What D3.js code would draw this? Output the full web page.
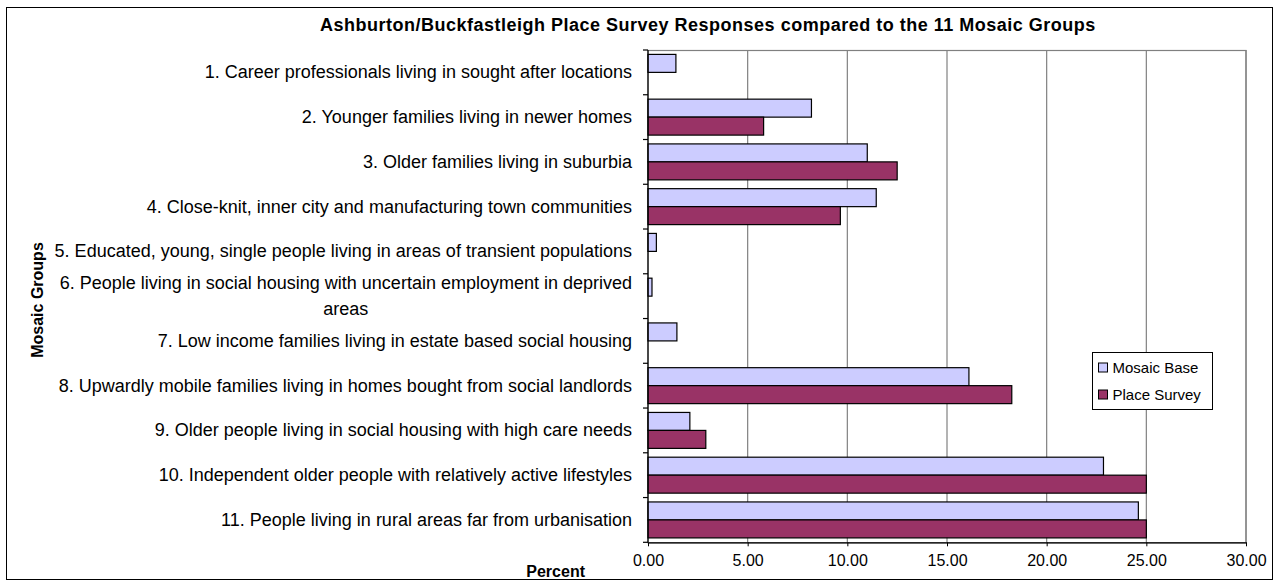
<!DOCTYPE html>
<html>
<head>
<meta charset="utf-8">
<script src="https://cdn.jsdelivr.net/npm/d3@7"></script>
<style>
  html, body { margin: 0; padding: 0; background: #ffffff; }
  svg { display: block; font-family: "Liberation Sans", Arial, sans-serif; }
</style>
</head>
<body>
<svg id="chart" width="1279" height="585"></svg>
<script>
const categories = [
  "1. Career professionals living in sought after locations",
  "2. Younger families living in newer homes",
  "3. Older families living in suburbia",
  "4. Close-knit, inner city and manufacturing town communities",
  "5. Educated, young, single people living in areas of transient populations",
  "6. People living in social housing with uncertain employment in deprived areas",
  "7. Low income families living in estate based social housing",
  "8. Upwardly mobile families living in homes bought from social landlords",
  "9. Older people living in social housing with high care needs",
  "10. Independent older people with relatively active lifestyles",
  "11. People living in rural areas far from urbanisation"
];
const seriesNames = ["Mosaic Base", "Place Survey"];
const mosaicBase = [1.4, 8.2, 11.0, 11.45, 0.42, 0.2, 1.45, 16.1, 2.1, 22.85, 24.6];
const placeSurvey = [0, 5.8, 12.5, 9.65, 0, 0, 0, 18.25, 2.9, 25.0, 25.0];
const xTicks = [0, 5, 10, 15, 20, 25, 30];
const colors = ["#ccccff", "#993366"];

const svg = d3.select("#chart");
const W = 1279, H = 585;
const plot = { left: 648, right: 1246, top: 50, bottom: 542.3 };

// outer border
svg.append("rect").attr("x", 6.5).attr("y", 7.5).attr("width", W - 13).attr("height", H - 13)
  .attr("fill", "#fff").attr("stroke", "#000").attr("stroke-width", 1);

const x = d3.scaleLinear().domain([0, 30]).range([plot.left, plot.right]);
const y = d3.scaleBand().domain(categories).range([plot.top, plot.bottom]).padding(0);
const ys = d3.scaleBand().domain(seriesNames).range([4.4, y.bandwidth() - 4.4]).padding(0);

// plot area frame (grey)
svg.append("rect").attr("x", plot.left).attr("y", plot.top + 0.5)
  .attr("width", plot.right - plot.left).attr("height", plot.bottom - plot.top)
  .attr("fill", "none").attr("stroke", "#808080").attr("stroke-width", 1.2);

// gridlines
svg.append("g").selectAll("line").data(xTicks.filter(d => d > 0)).join("line")
  .attr("x1", d => x(d)).attr("x2", d => x(d))
  .attr("y1", plot.top).attr("y2", plot.bottom)
  .attr("stroke", "#808080").attr("stroke-width", 1.2);

// bars
const rows = categories.map((c, i) => ({ c, vals: [mosaicBase[i], placeSurvey[i]] }));
const g = svg.append("g");
rows.forEach(r => {
  r.vals.forEach((v, j) => {
    if (v <= 0) return;
    g.append("rect")
      .attr("x", x(0))
      .attr("y", y(r.c) + ys(seriesNames[j]))
      .attr("width", x(v) - x(0))
      .attr("height", ys.bandwidth())
      .attr("fill", colors[j])
      .attr("stroke", "#000").attr("stroke-width", 1.2);
  });
});

// x axis
const xAxis = d3.axisBottom(x).tickValues(xTicks).tickFormat(d3.format(".2f")).tickSizeInner(4).tickSizeOuter(0).tickPadding(8);
const gx = svg.append("g").attr("transform", `translate(0,${plot.bottom})`).call(xAxis);
gx.select(".domain").attr("stroke", "#000").attr("stroke-width", 1.2);
gx.selectAll(".tick line").attr("stroke", "#000");
gx.selectAll("text").attr("font-size", 16).attr("fill", "#000")
  .attr("font-family", "'Liberation Sans', Arial, sans-serif");

// y axis line + ticks at band boundaries
svg.append("line").attr("x1", plot.left).attr("x2", plot.left).attr("y1", plot.top).attr("y2", plot.bottom)
  .attr("stroke", "#000").attr("stroke-width", 1.2);
const bounds = categories.map(c => y(c)).concat([plot.bottom]);
svg.append("g").selectAll("line").data(bounds).join("line")
  .attr("x1", plot.left - 5).attr("x2", plot.left).attr("y1", d => d).attr("y2", d => d)
  .attr("stroke", "#000").attr("stroke-width", 1.2);

// category labels
const labelRight = plot.left - 16;
const lg = svg.append("g").attr("font-size", 18).attr("fill", "#000");
categories.forEach(c => {
  const cy = y(c) + y.bandwidth() / 2;
  const t = lg.append("text").attr("x", labelRight).attr("y", cy).attr("dy", "0.33em")
    .attr("text-anchor", "end").text(c);
  const maxW = 612;
  if (t.node().getComputedTextLength() > maxW) {
    // wrap into two centered lines
    const words = c.split(" ");
    let line1 = [];
    let rest = words.slice();
    while (rest.length) {
      const test = line1.concat(rest[0]).join(" ");
      t.text(test);
      if (t.node().getComputedTextLength() > maxW) break;
      line1.push(rest.shift());
    }
    t.text(line1.join(" "));
    const w1 = t.node().getComputedTextLength();
    const cx = labelRight - w1 / 2;
    t.remove();
    lg.append("text").attr("x", cx).attr("y", cy - 13).attr("dy", "0.33em").attr("text-anchor", "middle").text(line1.join(" "));
    lg.append("text").attr("x", cx).attr("y", cy + 13).attr("dy", "0.33em").attr("text-anchor", "middle").text(rest.join(" "));
  }
});

// title
svg.append("text").attr("x", 320).attr("y", 25).attr("dy", "0.35em")
  .attr("font-size", 18).attr("font-weight", "bold").attr("fill", "#000")
  .attr("letter-spacing", 0.5)
  .text("Ashburton/Buckfastleigh Place Survey Responses compared to the 11 Mosaic Groups");

// axis titles
svg.append("text").attr("transform", "translate(37,300) rotate(-90)").attr("text-anchor", "middle").attr("dy", "0.35em")
  .attr("font-size", 16).attr("font-weight", "bold").attr("fill", "#000").text("Mosaic Groups");
svg.append("text").attr("x", 585).attr("y", 571).attr("dy", "0.35em").attr("text-anchor", "end")
  .attr("font-size", 16).attr("font-weight", "bold").attr("fill", "#000").text("Percent");

// legend
const leg = svg.append("g").attr("transform", "translate(1092.5,352.5)");
leg.append("rect").attr("width", 120).attr("height", 57).attr("fill", "#fff").attr("stroke", "#000").attr("stroke-width", 1);
seriesNames.forEach((s, i) => {
  const gy = 15 + i * 27;
  leg.append("rect").attr("x", 6).attr("y", gy - 4.5).attr("width", 9).attr("height", 9)
    .attr("fill", colors[i]).attr("stroke", "#000").attr("stroke-width", 1);
  leg.append("text").attr("x", 20).attr("y", gy).attr("dy", "0.35em").attr("font-size", 15).attr("fill", "#000").text(s);
});
</script>
</body>
</html>
